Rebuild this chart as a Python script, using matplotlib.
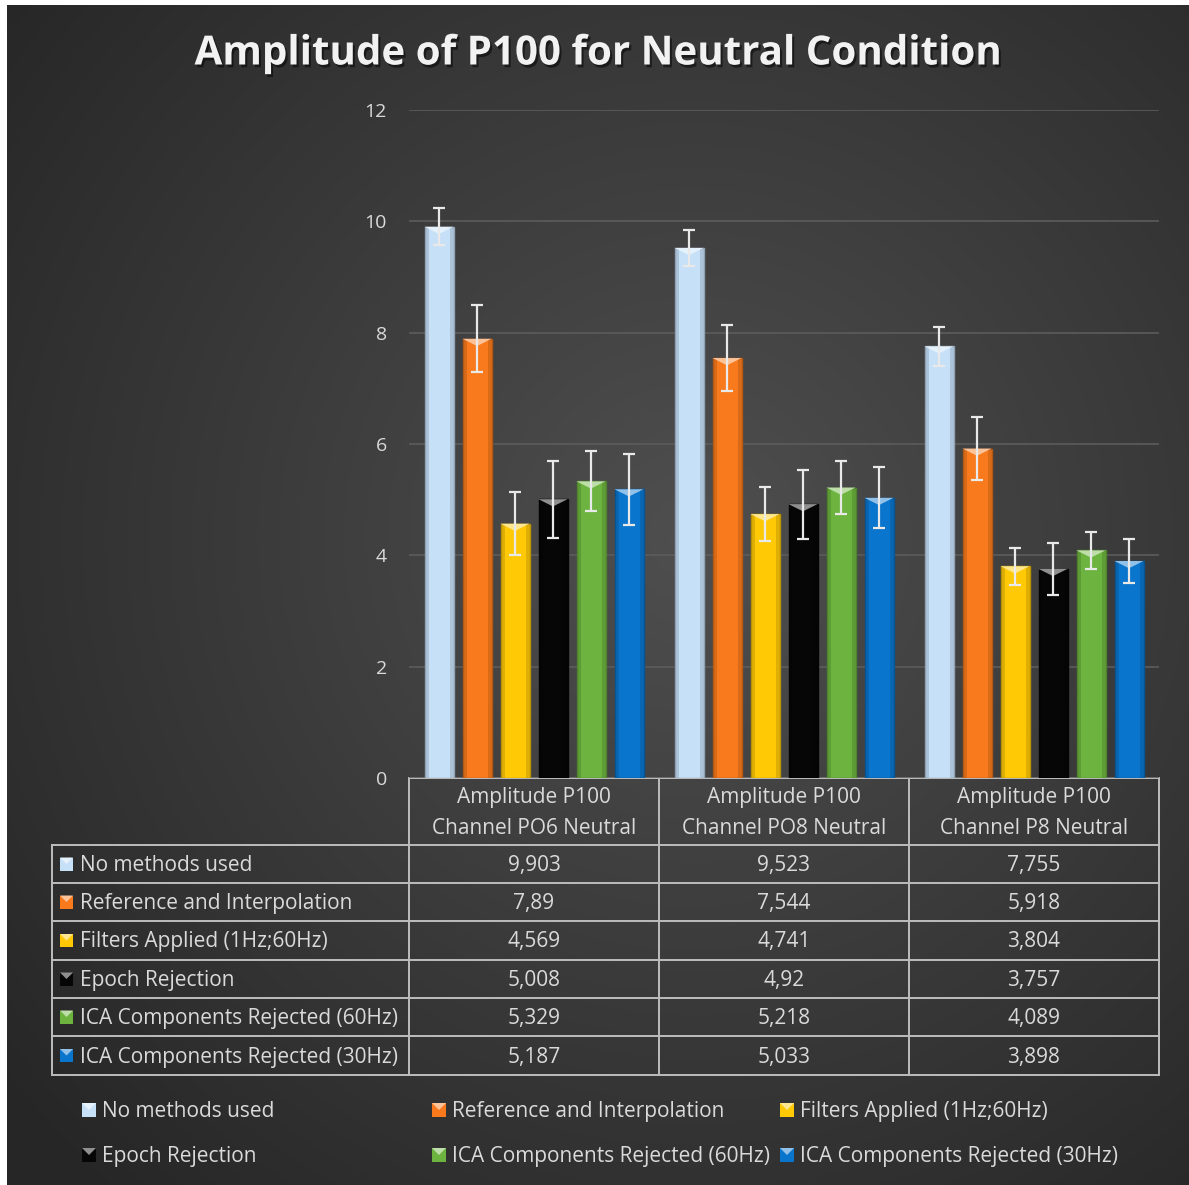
import numpy as np
import matplotlib
matplotlib.use("Agg")
import matplotlib.pyplot as plt
import matplotlib.patheffects as pe
from matplotlib.patches import Rectangle, Polygon
from matplotlib.colors import to_rgb

plt.rcParams['font.family'] = ['Open Sans', 'DejaVu Sans']

# ---- data ----
channels = ["Channel PO6 Neutral", "Channel PO8 Neutral", "Channel P8 Neutral"]
methods = ["No methods used", "Reference and Interpolation", "Filters Applied (1Hz;60Hz)",
           "Epoch Rejection", "ICA Components Rejected (60Hz)", "ICA Components Rejected (30Hz)"]
no_methods = [9.903, 9.523, 7.755]
ref_interp = [7.89, 7.544, 5.918]
filters = [4.569, 4.741, 3.804]
epoch_rej = [5.008, 4.92, 3.757]
ica_60 = [5.329, 5.218, 4.089]
ica_30 = [5.187, 5.033, 3.898]
# error bar half-lengths
err_no_methods = [0.33, 0.33, 0.35]
err_ref_interp = [0.60, 0.60, 0.56]
err_filters = [0.57, 0.49, 0.33]
err_epoch_rej = [0.69, 0.62, 0.47]
err_ica_60 = [0.54, 0.48, 0.33]
err_ica_30 = [0.64, 0.55, 0.40]

series = [no_methods, ref_interp, filters, epoch_rej, ica_60, ica_30]
errors = [err_no_methods, err_ref_interp, err_filters, err_epoch_rej, err_ica_60, err_ica_30]
colors = ["#c6e0f7", "#f97a1c", "#ffc905", "#060606", "#6cb43f", "#0a75cc"]

W, H = 1189, 1185
fig = plt.figure(figsize=(W / 100, H / 100), dpi=100, facecolor="white")

# background with radial gradient, also used as pixel-coordinate canvas
bg = fig.add_axes([0, 0, 1, 1])
yy, xx = np.mgrid[0:H, 0:W]
d = np.sqrt(((xx - 0.58 * W) / W) ** 2 + ((yy - 0.45 * H) / H) ** 2)
t = np.clip(d / 0.75, 0, 1)
c_in, c_out = np.array([0.31, 0.31, 0.31]), np.array([0.15, 0.15, 0.15])
img = c_in[None, None, :] * (1 - t[..., None]) + c_out[None, None, :] * t[..., None]
bg.imshow(img, extent=[7, W, H, 5], aspect="auto", interpolation="bilinear")
bg.set_xlim(0, W)
bg.set_ylim(H, 0)
bg.axis("off")

txt_col = "#dadada"
line_col = "#bdbdbd"

# title
bg.text(597, 54, "Amplitude of P100 for Neutral Condition", ha="center", va="center",
        fontsize=29, fontweight="bold", color="#f2f2f2",
        path_effects=[pe.withSimplePatchShadow(offset=(1.5, -2), shadow_rgbFace="black", alpha=0.5)])

# ---- main chart ----
ax = fig.add_axes([409 / W, 1 - 778 / H, 750 / W, 668 / H])
ax.set_facecolor("none")
ax.set_xlim(0, 3)
ax.set_ylim(0, 12)
ax.set_yticks(np.arange(0, 13, 2))
ax.set_xticks([])
ax.tick_params(axis="y", length=0, labelsize=14, labelcolor=txt_col, pad=16)
ax.grid(axis="y", color="#5c5c5c", lw=1.2)
ax.set_axisbelow(True)
for s in ax.spines.values():
    s.set_visible(False)

slot, bw = 0.152, 0.116
centers = np.arange(3) + 0.5
for i, (vals, errs, col) in enumerate(zip(series, errors, colors)):
    x = centers + (i - 2.5) * slot
    base = np.array(to_rgb(col))
    dark = base * 0.72
    light = base + (1 - base) * 0.55
    ax.bar(x, vals, bw, color=col, edgecolor=dark, lw=1.0, zorder=2)
    # side shading
    ax.bar(x - bw / 2 + 0.008, vals, 0.016, color=dark, alpha=0.45, lw=0, zorder=2.1)
    ax.bar(x + bw / 2 - 0.008, vals, 0.016, color=dark, alpha=0.45, lw=0, zorder=2.1)
    # top bevel
    for xc, v in zip(x, vals):
        ax.add_patch(Polygon([(xc - bw / 2, v), (xc + bw / 2, v), (xc, v - 0.13)],
                             closed=True, color=light, lw=0, zorder=2.2))
    ax.errorbar(x, vals, yerr=errs, fmt="none", ecolor="#e9e9e9", elinewidth=1.6,
                capsize=4.3, capthick=1.6, zorder=3)

# ---- data table ----
col_x = [409, 659, 909, 1159]
row_y = [845, 883, 921, 960, 998, 1036, 1075]
lw_t = 1.4
bg.plot([409, 1159], [778, 778], color=line_col, lw=lw_t)
for xv in col_x:
    bg.plot([xv, xv], [778, 1075], color=line_col, lw=lw_t)
bg.plot([52, 52], [845, 1075], color=line_col, lw=lw_t)
for yv in row_y:
    bg.plot([52, 1159], [yv, yv], color=line_col, lw=lw_t)

fs = 15


def swatch(x0, yc, col, size=13):
    base = np.array(to_rgb(col))
    light = base + (1 - base) * 0.55
    bg.add_patch(Rectangle((x0, yc - size / 2), size, size, color=col, lw=0))
    bg.add_patch(Polygon([(x0, yc - size / 2), (x0 + size, yc - size / 2), (x0 + size / 2, yc)],
                         closed=True, color=light, lw=0))


for j, ch in enumerate(channels):
    cx = (col_x[j] + col_x[j + 1]) / 2
    bg.text(cx, 798, "Amplitude P100", ha="center", va="center", fontsize=fs, color=txt_col)
    bg.text(cx, 828, ch, ha="center", va="center", fontsize=fs, color=txt_col)

for i, (name, vals, col) in enumerate(zip(methods, series, colors)):
    yc = (row_y[i] + row_y[i + 1]) / 2
    swatch(60, yc, col)
    bg.text(80, yc + 1.5, name, ha="left", va="center", fontsize=fs, color=txt_col)
    for j, v in enumerate(vals):
        cx = (col_x[j] + col_x[j + 1]) / 2
        bg.text(cx, yc + 1.5, str(v).replace(".", ","), ha="center", va="center",
                fontsize=fs, color=txt_col)

# ---- legend ----
leg_x = [82, 432, 780]
leg_y = [1110, 1155]
for i, (name, col) in enumerate(zip(methods, colors)):
    lx = leg_x[i % 3]
    ly = leg_y[i // 3]
    swatch(lx, ly, col, size=14)
    bg.text(lx + 20, ly + 1.5, name, ha="left", va="center", fontsize=fs, color=txt_col)

fig.savefig("out.png", dpi=100, facecolor=fig.get_facecolor())
